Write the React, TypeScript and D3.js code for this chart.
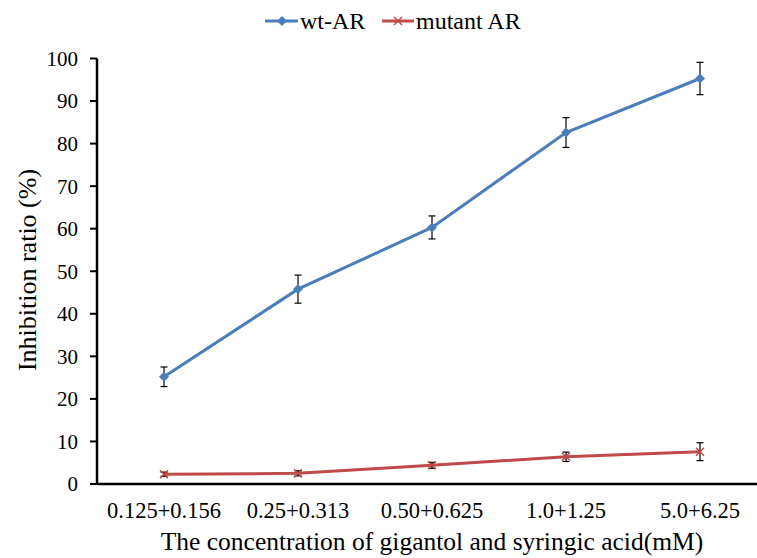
import React from 'react';
import * as d3 from 'd3';

const categories = ['0.125+0.156', '0.25+0.313', '0.50+0.625', '1.0+1.25', '5.0+6.25'];
const wtValues = [25.2, 45.8, 60.3, 82.6, 95.3];
const wtErrors = [2.3, 3.3, 2.7, 3.5, 3.8];
const mutValues = [2.3, 2.5, 4.4, 6.4, 7.6];
const mutErrors = [0.5, 0.6, 0.7, 1.1, 2.1];
const yTicks = [0, 10, 20, 30, 40, 50, 60, 70, 80, 90, 100];

const BLUE = '#4a7ebb';
const RED = '#be4b48';
const FONT = "'Liberation Serif', 'DejaVu Serif', serif";

const App = () => {
  const width = 757;
  const height = 558;
  const left = 97;
  const bottom = 484;
  const top = 58.5;

  const x = d3.scalePoint<string>().domain(categories).range([left, left + 670]).padding(0.5);
  const y = d3.scaleLinear().domain([0, 100]).range([bottom, top]);

  const line = d3
    .line<number>()
    .x((d, i) => x(categories[i]) as number)
    .y((d) => y(d));

  const errBars = (vals: number[], errs: number[]) =>
    vals.map((v, i) => {
      const cx = x(categories[i]) as number;
      return (
        <g key={i} stroke="#000" strokeWidth={1.2}>
          <line x1={cx} x2={cx} y1={y(v - errs[i])} y2={y(v + errs[i])} />
          <line x1={cx - 3.5} x2={cx + 3.5} y1={y(v - errs[i])} y2={y(v - errs[i])} />
          <line x1={cx - 3.5} x2={cx + 3.5} y1={y(v + errs[i])} y2={y(v + errs[i])} />
        </g>
      );
    });

  const diamond = (cx: number, cy: number, k: any) => (
    <path key={k} d={`M${cx},${cy - 5}L${cx + 5},${cy}L${cx},${cy + 5}L${cx - 5},${cy}Z`} fill={BLUE} />
  );
  const cross = (cx: number, cy: number, k: any) => (
    <path key={k} d={`M${cx - 4},${cy - 4}L${cx + 4},${cy + 4}M${cx - 4},${cy + 4}L${cx + 4},${cy - 4}`} stroke={RED} strokeWidth={1.5} fill="none" />
  );

  return (
    <svg width={width} height={height} style={{ position: 'absolute', left: 0, top: 0, fontFamily: FONT }}>
      <rect width={width} height={height} fill="#fff" />
      {/* legend */}
      <line x1={265} x2={298} y1={21} y2={21} stroke={BLUE} strokeWidth={3} />
      {diamond(282, 21, 'ld')}
      <text x={300} y={29} fontSize={24}>wt-AR</text>
      <line x1={382} x2={414} y1={21} y2={21} stroke={RED} strokeWidth={3} />
      {cross(398, 21, 'lc')}
      <text x={416} y={29} fontSize={24}>mutant AR</text>

      {/* y axis */}
      <line x1={left} x2={left} y1={top} y2={bottom} stroke="#000" strokeWidth={2.5} />
      {yTicks.map((t) => (
        <g key={t}>
          <line x1={left - 7} x2={left} y1={y(t)} y2={y(t)} stroke="#000" strokeWidth={2} />
          <text x={78} y={y(t)} dy="0.35em" textAnchor="end" fontSize={21}>{t}</text>
        </g>
      ))}
      {/* x axis */}
      <line x1={left} x2={width} y1={bottom} y2={bottom} stroke="#000" strokeWidth={2.5} />
      {categories.map((c) => (
        <text key={c} x={x(c)} y={518} textAnchor="middle" fontSize={22.5}>{c}</text>
      ))}

      {/* series */}
      <path d={line(wtValues) as string} fill="none" stroke={BLUE} strokeWidth={3} />
      <path d={line(mutValues) as string} fill="none" stroke={RED} strokeWidth={3} />
      {errBars(wtValues, wtErrors)}
      {errBars(mutValues, mutErrors)}
      {wtValues.map((v, i) => diamond(x(categories[i]) as number, y(v), i))}
      {mutValues.map((v, i) => cross(x(categories[i]) as number, y(v), i))}

      {/* titles */}
      <text x={432} y={550} textAnchor="middle" fontSize={25.5}>The concentration of gigantol and syringic acid(mM)</text>
      <text transform={`translate(36, 270) rotate(-90)`} textAnchor="middle" fontSize={26}>Inhibition ratio (%)</text>
    </svg>
  );
};

export default App;
